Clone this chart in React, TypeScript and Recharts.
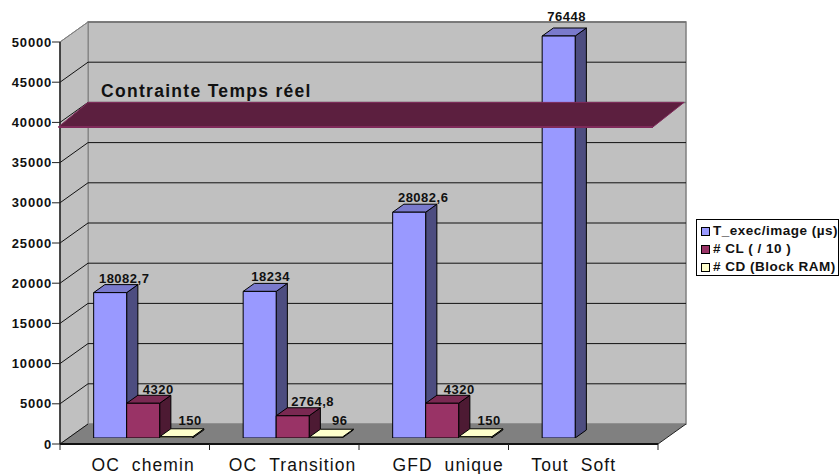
import React from "react";
import {
  BarChart,
  Bar,
  XAxis,
  YAxis,
  Legend,
  LabelList,
  ReferenceArea,
  ReferenceLine,
} from "recharts";

const categories = [
  "OC\u00a0\u00a0chemin",
  "OC\u00a0\u00a0Transition",
  "\u00a0\u00a0GFD\u00a0\u00a0unique",
  "Tout\u00a0\u00a0Soft\u00a0\u00a0\u00a0\u00a0\u00a0\u00a0",
];
const tExec = [18082.7, 18234, 28082.6, 76448];
const cl = [4320, 2764.8, 4320, null];
const cd = [150, 96, 150, null];
const yTicks = [0, 5000, 10000, 15000, 20000, 25000, 30000, 35000, 40000, 45000, 50000];

// how far each value label sits right of its bar's centre, and above its top
const labelNudge = [
  [14, 11, 14, 8],
  [15, 20, 17, 0],
  [14, 14, 14, 0],
];
const labelLift = [
  [10, 10, 10, 15],
  [9, 10, 9, 0],
  [12, 12, 12, 0],
];

const AXIS_MAX = 50000;
const REALTIME_LIMIT = 40000;
const FONT = '"Liberation Sans", Arial, sans-serif';

// 3D look: the bars stand 0.3 of the depth behind the front edge, and are 0.4 deep
const DEPTH_X = 28;
const DEPTH_Y = 20;
const FRONT_X = DEPTH_X * 0.3;
const FRONT_Y = DEPTH_Y * 0.3;
const BAR_X = DEPTH_X * 0.4;
const BAR_Y = DEPTH_Y * 0.4;

const data = categories.map((name, i) => ({
  name,
  tExec: tExec[i],
  cl: cl[i],
  cd: cd[i],
}));

const series = [
  { key: "tExec", name: "T_exec/image (µs)", fill: "#9999ff", top: "#7a7acc", side: "#4d4d80" },
  { key: "cl", name: "# CL ( / 10 )", fill: "#993366", top: "#7a2952", side: "#4d1a33" },
  { key: "cd", name: "# CD (Block RAM)", fill: "#ffffcc", top: "#ffffcc", side: "#80806a" },
];

const pts = (list: number[][]) => list.map((p) => p.join(",")).join(" ");

const barTop = (y: number, height: number, value: number) => {
  const bottom = y + height;
  return bottom - (height / value) * Math.min(value, AXIS_MAX);
};

const makeBarShape = (s: (typeof series)[number]) => (props: any) => {
  const { x, y, width, height, payload } = props;
  const value = payload[s.key];
  if (value == null) return <g />;
  const bottom = y + height;
  const top = barTop(y, height, value);
  return (
    <g stroke="#000" strokeWidth={1} strokeLinejoin="round">
      <polygon
        fill={s.side}
        points={pts([
          [x + width, top],
          [x + width + BAR_X, top - BAR_Y],
          [x + width + BAR_X, bottom - BAR_Y],
          [x + width, bottom],
        ])}
      />
      <polygon
        fill={s.top}
        points={pts([
          [x, top],
          [x + BAR_X, top - BAR_Y],
          [x + width + BAR_X, top - BAR_Y],
          [x + width, top],
        ])}
      />
      <rect x={x} y={top} width={width} height={bottom - top} fill={s.fill} />
    </g>
  );
};

const renderValue = (source: (number | null)[], nudge: number[], lift: number[]) => (props: any) => {
  const { x, y, width, height, index } = props;
  const value = source[index];
  if (value == null) return null;
  const top = barTop(y, height, value);
  return (
    <text
      x={x + width / 2 + nudge[index]}
      y={top - lift[index]}
      textAnchor="middle"
      fontFamily={FONT}
      fontWeight="bold"
      fontSize={13}
      letterSpacing={0.5}
      fill="#111"
    >
      {String(value).replace(".", ",")}
    </text>
  );
};

const Walls = (props: any) => {
  const { x, y, width, height } = props;
  const left = x - FRONT_X;
  const right = left + width;
  const front = y + height + FRONT_Y;
  const top = y + FRONT_Y;
  return (
    <g>
      <polygon
        fill="#c0c0c0"
        stroke="#808080"
        strokeWidth={1.5}
        points={pts([
          [left + DEPTH_X, top - DEPTH_Y],
          [right + DEPTH_X, top - DEPTH_Y],
          [right + DEPTH_X, front - DEPTH_Y],
          [left + DEPTH_X, front - DEPTH_Y],
        ])}
      />
      <polygon
        fill="#c0c0c0"
        stroke="#808080"
        strokeWidth={1}
        points={pts([
          [left, top],
          [left + DEPTH_X, top - DEPTH_Y],
          [left + DEPTH_X, front - DEPTH_Y],
          [left, front],
        ])}
      />
      <polygon
        fill="#808080"
        points={pts([
          [left, front],
          [left + DEPTH_X, front - DEPTH_Y],
          [right + DEPTH_X, front - DEPTH_Y],
          [right, front],
        ])}
      />
      <line x1={right} y1={front} x2={right + DEPTH_X} y2={front - DEPTH_Y} stroke="#222" />
    </g>
  );
};

const GridLine = (props: any) => {
  const { x1, x2, y1, tick } = props;
  const left = x1 - FRONT_X;
  const right = x2 - FRONT_X;
  const y = y1 + FRONT_Y;
  const isFloor = tick === 0;
  const soft = tick === AXIS_MAX || tick === REALTIME_LIMIT;
  return (
    <g fill="none">
      {!isFloor && (
        <line
          x1={left + DEPTH_X}
          y1={y - DEPTH_Y}
          x2={right + DEPTH_X}
          y2={y - DEPTH_Y}
          stroke={soft ? "#707070" : "#111"}
          strokeWidth={soft ? 1.5 : 1}
        />
      )}
      <line
        x1={left}
        y1={y}
        x2={left + DEPTH_X}
        y2={y - DEPTH_Y}
        stroke={tick === AXIS_MAX ? "#808080" : "#111"}
        strokeWidth={1}
      />
    </g>
  );
};

const FrontAxes = (props: any) => {
  const { x, y, width, height } = props;
  const left = x - FRONT_X;
  const right = left + width;
  const front = y + height + FRONT_Y;
  const top = y + FRONT_Y;
  const step = width / categories.length;
  return (
    <g stroke="#222">
      <line x1={left} y1={top} x2={left} y2={front} strokeWidth={1.5} />
      <line x1={left} y1={front} x2={right} y2={front} strokeWidth={2} stroke="#111" />
      {categories.concat("").map((_, i) => (
        <line key={i} x1={left + i * step} y1={front} x2={left + i * step} y2={front + 6} strokeWidth={1} />
      ))}
    </g>
  );
};

const LimitPlane = (props: any) => {
  const { x1, x2, y1 } = props;
  const left = x1 - FRONT_X;
  const right = x2 - FRONT_X;
  const y = y1 + FRONT_Y;
  return (
    <g>
      <text
        x={left + 41}
        y={y - 25.5}
        fontFamily={FONT}
        fontWeight="bold"
        fontSize={17.5}
        letterSpacing={1.3}
        fill="#111"
      >
        Contrainte Temps réel
      </text>
      <polygon
        fill="#5c1f3f"
        stroke="#7f2a5a"
        strokeWidth={1}
        points={pts([
          [left - 1.5, y + 4.5],
          [left + DEPTH_X, y - DEPTH_Y],
          [right + DEPTH_X - 2, y - DEPTH_Y],
          [right - 5, y + 4.5],
        ])}
      />
      <line x1={left - 1.5} y1={y + 4.5} x2={right - 5} y2={y + 4.5} stroke="#7f2a5a" strokeWidth={2} />
    </g>
  );
};

const YTick = (props: any) => {
  const { x, y, payload } = props;
  const tx = x - FRONT_X;
  const ty = y + FRONT_Y;
  return (
    <g>
      <line x1={tx - 8} y1={ty} x2={tx} y2={ty} stroke="#222" />
      <text
        x={tx - 8}
        y={ty + 4.5}
        textAnchor="end"
        fontFamily={FONT}
        fontWeight="bold"
        fontSize={13}
        letterSpacing={0.8}
        fill="#111"
      >
        {payload.value}
      </text>
    </g>
  );
};

const XTick = (props: any) => {
  const { x, y, payload } = props;
  return (
    <text
      x={x}
      y={y}
      textAnchor="middle"
      fontFamily={FONT}
      fontSize={17.5}
      letterSpacing={1.1}
      fill="#111"
    >
      {payload.value}
    </text>
  );
};

const LegendBox = () => (
  <div
    style={{
      border: "1px solid #000",
      background: "#fff",
      width: 143,
      height: 57,
      boxSizing: "border-box",
      padding: "2px 0 0 4px",
      fontFamily: FONT,
      fontWeight: "bold",
      fontSize: 13.5,
      letterSpacing: 0.5,
      lineHeight: "18px",
      whiteSpace: "nowrap",
      color: "#111",
    }}
  >
    {series.map((s) => (
      <div key={s.key} style={{ display: "flex", alignItems: "center", height: 18 }}>
        <span
          style={{
            display: "inline-block",
            width: 7,
            height: 7,
            border: "1px solid #000",
            background: s.fill,
            marginRight: 3,
          }}
        />
        {s.name}
      </div>
    ))}
  </div>
);

const App = () => (
  <div style={{ position: "absolute", left: 0, top: 0 }}>
    <BarChart
      width={839}
      height={474}
      data={data}
      barCategoryGap="16.9%"
      barGap={0}
      margin={{ top: 3.84, right: 172.6, bottom: 0, left: 8.4 }}
    >
      <XAxis
        dataKey="name"
        axisLine={false}
        tickLine={false}
        height={36}
        interval={0}
        tick={(p: any) => <XTick {...p} />}
        tickSize={0}
        tickMargin={33}
      />
      <YAxis
        width={60}
        domain={[0, 54000]}
        allowDataOverflow
        ticks={yTicks}
        interval={0}
        axisLine={false}
        tickLine={false}
        tickSize={0}
        tickMargin={0}
        tick={(p: any) => <YTick {...p} />}
      />
      <ReferenceArea y1={0} y2={AXIS_MAX} shape={<Walls />} zIndex={50} fill="none" />
      {yTicks.map((t) => (
        <ReferenceLine key={t} y={t} zIndex={60} shape={(p: any) => <GridLine {...p} tick={t} />} />
      ))}
      <ReferenceArea y1={0} y2={AXIS_MAX} shape={<FrontAxes />} zIndex={70} fill="none" />
      {series.map((s, i) => (
        <Bar
          key={s.key}
          dataKey={s.key}
          name={s.name}
          fill={s.fill}
          isAnimationActive={false}
          shape={makeBarShape(s)}
        >
          <LabelList content={renderValue([tExec, cl, cd][i], labelNudge[i], labelLift[i])} />
        </Bar>
      ))}
      <ReferenceLine y={REALTIME_LIMIT} zIndex={900} shape={<LimitPlane />} />
      <Legend
        layout="horizontal"
        align="center"
        verticalAlign="middle"
        content={<LegendBox />}
        wrapperStyle={{ left: 696, top: 219, width: 143 }}
      />
    </BarChart>
  </div>
);

export default App;
